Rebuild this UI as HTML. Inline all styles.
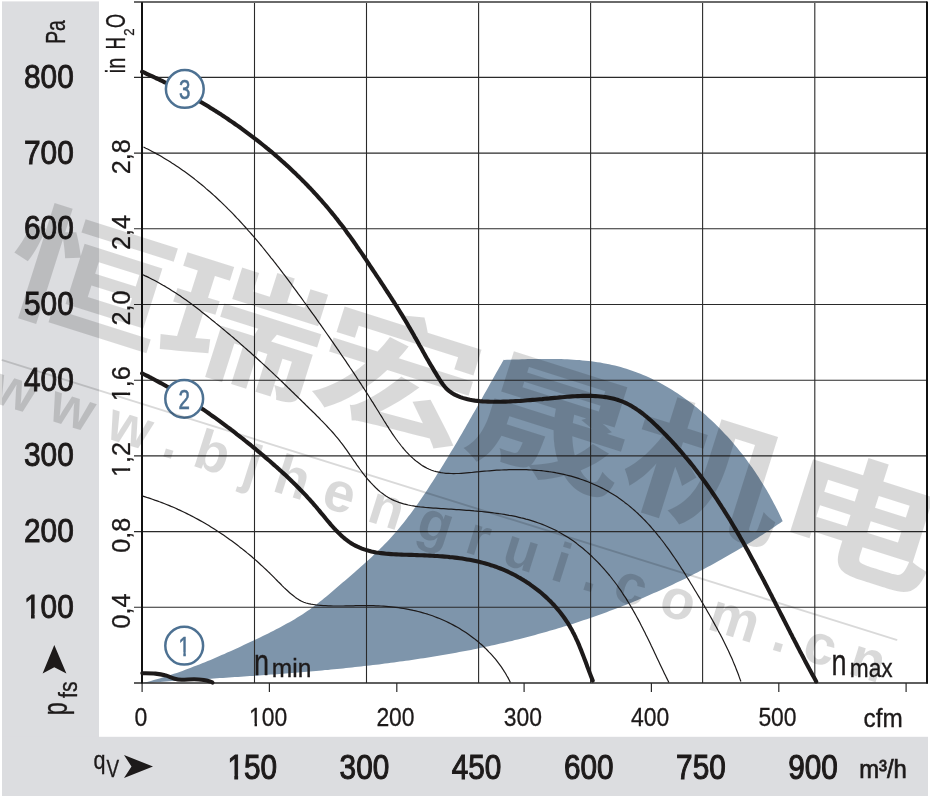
<!DOCTYPE html><html><head><meta charset="utf-8"><title>Fan curve</title><style>
html,body{margin:0;padding:0;background:#fff;}body{width:930px;height:801px;overflow:hidden;}svg{display:block;will-change:transform;}
text{font-family:'Liberation Sans', Arial, sans-serif;}
</style></head><body>
<svg width="930" height="801" viewBox="0 0 930 801">
<rect x="0" y="0" width="930" height="801" fill="#fff"/>
<rect x="2" y="1.4" width="97" height="794.6" fill="#dcdde0"/>
<rect x="2" y="736.8" width="926" height="59.2" fill="#dcdde0"/>
<path d="M142.1,683.3 L145.1,682.5 L148.0,681.8 L150.9,681.0 L153.8,680.1 L156.7,679.3 L159.6,678.5 L162.5,677.6 L165.3,676.7 L168.2,675.8 L171.1,674.8 L173.9,673.8 L176.8,672.9 L179.6,671.9 L182.4,670.9 L185.3,669.8 L188.1,668.8 L190.9,667.7 L193.7,666.6 L196.6,665.5 L199.4,664.4 L202.2,663.3 L205.0,662.2 L207.7,661.0 L210.5,659.9 L213.3,658.7 L216.1,657.5 L218.9,656.3 L221.6,655.1 L224.4,653.9 L227.2,652.6 L229.9,651.4 L232.7,650.2 L235.4,648.9 L238.2,647.7 L240.9,646.4 L243.7,645.1 L246.4,643.8 L249.1,642.5 L251.9,641.3 L254.6,640.0 L257.3,638.7 L260.0,637.4 L262.8,636.0 L265.5,634.7 L268.2,633.4 L270.9,632.0 L273.6,630.7 L276.2,629.3 L278.9,627.9 L281.6,626.5 L284.2,625.1 L286.9,623.6 L289.5,622.2 L292.1,620.7 L294.7,619.2 L297.2,617.6 L299.8,616.0 L302.3,614.4 L304.8,612.8 L307.3,611.1 L309.8,609.4 L312.2,607.6 L314.7,605.8 L317.0,604.0 L319.4,602.1 L321.8,600.2 L324.1,598.3 L326.4,596.4 L328.8,594.4 L331.1,592.5 L333.4,590.5 L335.7,588.5 L338.0,586.6 L340.3,584.6 L342.6,582.6 L344.9,580.7 L347.2,578.7 L349.5,576.7 L351.8,574.8 L354.1,572.8 L356.3,570.8 L358.6,568.8 L360.8,566.8 L363.1,564.8 L365.3,562.8 L367.6,560.8 L369.8,558.7 L372.0,556.7 L374.1,554.6 L376.3,552.5 L378.5,550.4 L380.6,548.3 L382.7,546.2 L384.8,544.0 L386.9,541.9 L389.0,539.7 L391.0,537.5 L393.0,535.3 L395.0,533.0 L397.0,530.7 L398.9,528.4 L400.9,526.1 L402.8,523.8 L404.6,521.4 L406.5,519.0 L408.3,516.6 L410.2,514.2 L412.0,511.8 L413.8,509.3 L415.5,506.9 L417.3,504.4 L419.0,501.9 L420.7,499.4 L422.4,496.9 L424.1,494.4 L425.8,491.9 L427.5,489.4 L429.2,486.8 L430.8,484.3 L432.5,481.8 L434.1,479.2 L435.7,476.7 L437.3,474.1 L439.0,471.6 L440.6,469.0 L442.1,466.5 L443.7,463.9 L445.3,461.3 L446.9,458.8 L448.4,456.2 L450.0,453.6 L451.5,451.0 L453.1,448.4 L454.6,445.9 L456.2,443.3 L457.7,440.7 L459.2,438.1 L460.7,435.5 L462.2,432.9 L463.7,430.3 L465.2,427.7 L466.7,425.1 L468.2,422.4 L469.7,419.8 L471.2,417.2 L472.7,414.6 L474.2,412.0 L475.7,409.4 L477.2,406.8 L478.7,404.1 L480.1,401.5 L481.6,398.9 L483.1,396.3 L484.6,393.6 L486.1,391.0 L487.5,388.4 L489.0,385.7 L490.5,383.1 L492.0,380.5 L493.5,377.8 L494.9,375.2 L496.4,372.6 L497.9,370.0 L499.4,367.3 L500.9,364.7 L502.4,362.1 L503.9,359.4 L504.0,359.9 L506.9,359.8 L509.9,359.7 L512.9,359.6 L515.9,359.5 L518.9,359.4 L521.9,359.3 L524.9,359.2 L527.9,359.1 L530.9,359.1 L533.9,359.0 L537.0,359.0 L540.0,358.9 L543.0,358.9 L546.1,358.9 L549.1,358.9 L552.1,358.9 L555.2,359.0 L558.2,359.0 L561.2,359.1 L564.3,359.2 L567.3,359.3 L570.3,359.5 L573.3,359.7 L576.4,359.9 L579.4,360.1 L582.4,360.4 L585.4,360.7 L588.4,361.0 L591.4,361.3 L594.3,361.7 L597.3,362.2 L600.3,362.6 L603.2,363.2 L606.2,363.7 L609.1,364.3 L612.0,364.9 L614.9,365.6 L617.8,366.3 L620.7,367.1 L623.6,367.9 L626.4,368.8 L629.2,369.7 L632.1,370.7 L634.9,371.7 L637.6,372.7 L640.4,373.8 L643.2,374.9 L645.9,376.1 L648.6,377.3 L651.3,378.6 L654.0,379.9 L656.7,381.3 L659.3,382.6 L662.0,384.1 L664.6,385.5 L667.2,387.0 L669.8,388.5 L672.3,390.1 L674.9,391.7 L677.4,393.3 L679.9,395.0 L682.4,396.7 L684.8,398.4 L687.3,400.2 L689.7,402.0 L692.1,403.8 L694.4,405.7 L696.8,407.5 L699.1,409.5 L701.4,411.4 L703.7,413.3 L706.0,415.3 L708.2,417.4 L710.5,419.4 L712.7,421.5 L714.8,423.6 L717.0,425.7 L719.1,427.8 L721.2,430.0 L723.3,432.2 L725.4,434.4 L727.5,436.6 L729.5,438.8 L731.5,441.1 L733.5,443.4 L735.4,445.7 L737.3,448.0 L739.2,450.4 L741.1,452.8 L743.0,455.1 L744.8,457.6 L746.7,460.0 L748.4,462.4 L750.2,464.9 L752.0,467.3 L753.7,469.8 L755.4,472.3 L757.0,474.8 L758.7,477.3 L760.3,479.9 L761.9,482.4 L763.5,485.0 L765.0,487.6 L766.6,490.1 L768.1,492.7 L769.6,495.3 L771.0,498.0 L772.4,500.6 L773.8,503.2 L775.2,505.8 L776.6,508.5 L777.9,511.1 L779.2,513.8 L780.5,516.5 L781.7,519.1 L782.9,521.8 L782.7,521.1 L780.2,522.9 L777.7,524.6 L775.2,526.3 L772.7,528.0 L770.2,529.7 L767.6,531.4 L765.1,533.0 L762.6,534.7 L760.0,536.3 L757.5,537.9 L754.9,539.6 L752.3,541.2 L749.8,542.8 L747.2,544.3 L744.6,545.9 L742.0,547.5 L739.4,549.0 L736.9,550.6 L734.3,552.1 L731.6,553.6 L729.0,555.1 L726.4,556.6 L723.8,558.1 L721.2,559.6 L718.5,561.1 L715.9,562.5 L713.3,564.0 L710.6,565.4 L708.0,566.8 L705.3,568.3 L702.6,569.7 L700.0,571.0 L697.3,572.4 L694.6,573.8 L691.9,575.2 L689.2,576.5 L686.6,577.9 L683.9,579.2 L681.2,580.5 L678.4,581.8 L675.7,583.1 L673.0,584.4 L670.3,585.7 L667.6,586.9 L664.9,588.2 L662.1,589.4 L659.4,590.7 L656.6,591.9 L653.9,593.1 L651.1,594.3 L648.4,595.5 L645.6,596.7 L642.9,597.9 L640.1,599.0 L637.3,600.2 L634.6,601.3 L631.8,602.5 L629.0,603.6 L626.2,604.7 L623.4,605.8 L620.6,606.9 L617.8,608.0 L615.0,609.0 L612.2,610.1 L609.4,611.1 L606.6,612.2 L603.8,613.2 L601.0,614.2 L598.1,615.2 L595.3,616.2 L592.5,617.2 L589.6,618.2 L586.8,619.2 L584.0,620.1 L581.1,621.1 L578.3,622.0 L575.4,622.9 L572.6,623.9 L569.7,624.8 L566.9,625.7 L564.0,626.6 L561.1,627.4 L558.3,628.3 L555.4,629.2 L552.5,630.0 L549.6,630.8 L546.8,631.7 L543.9,632.5 L541.0,633.3 L538.1,634.1 L535.2,634.9 L532.3,635.7 L529.4,636.4 L526.5,637.2 L523.6,638.0 L520.7,638.7 L517.8,639.4 L514.9,640.1 L512.0,640.9 L509.1,641.6 L506.1,642.2 L503.2,642.9 L500.3,643.6 L497.4,644.3 L494.4,644.9 L491.5,645.6 L488.6,646.2 L485.7,646.8 L482.7,647.5 L479.8,648.1 L476.8,648.7 L473.9,649.3 L471.0,649.9 L468.0,650.4 L465.1,651.0 L462.1,651.6 L459.2,652.1 L456.2,652.7 L453.3,653.2 L450.3,653.7 L447.4,654.3 L444.4,654.8 L441.4,655.3 L438.5,655.8 L435.5,656.3 L432.5,656.8 L429.6,657.2 L426.6,657.7 L423.6,658.2 L420.7,658.6 L417.7,659.1 L414.7,659.5 L411.7,660.0 L408.8,660.4 L405.8,660.8 L402.8,661.2 L399.8,661.6 L396.8,662.0 L393.9,662.4 L390.9,662.8 L387.9,663.2 L384.9,663.6 L381.9,664.0 L378.9,664.4 L375.9,664.7 L372.9,665.1 L369.9,665.4 L367.0,665.8 L364.0,666.1 L361.0,666.5 L358.0,666.8 L355.0,667.1 L352.0,667.4 L349.0,667.8 L346.0,668.1 L343.0,668.4 L340.0,668.7 L337.0,669.0 L334.0,669.3 L331.0,669.6 L328.0,669.9 L325.0,670.1 L322.0,670.4 L319.0,670.7 L316.0,671.0 L313.0,671.2 L310.0,671.5 L307.0,671.8 L304.0,672.0 L300.9,672.3 L297.9,672.5 L294.9,672.8 L291.9,673.0 L288.9,673.2 L285.9,673.5 L282.9,673.7 L279.9,673.9 L276.9,674.2 L273.9,674.4 L270.9,674.6 L267.9,674.8 L264.9,675.1 L261.9,675.3 L258.9,675.5 L255.9,675.7 L252.9,675.9 L249.9,676.1 L246.9,676.3 L243.9,676.5 L240.9,676.7 L237.9,676.9 L234.9,677.1 L231.9,677.3 L228.9,677.5 L225.9,677.7 L222.9,677.9 L219.9,678.1 L216.9,678.3 L213.9,678.5 L210.9,678.7 L207.9,678.9 L204.9,679.1 L201.9,679.3 L198.9,679.5 L195.9,679.6 L192.9,679.8 L189.9,680.0 L186.9,680.2 L184.0,680.4 L181.0,680.6 L178.0,680.8 L175.0,681.0 L172.0,681.1 L169.0,681.3 L166.1,681.5 L163.1,681.7 L160.1,681.9 L157.1,682.1 L154.1,682.3 L151.2,682.5 L148.2,682.7 L145.2,682.9 L142.3,683.1 Z" fill="#7e95ab"/>
<g stroke="#2a2a2a" stroke-width="1.1" fill="none"><line x1="254.5" y1="1.7" x2="254.5" y2="683" /><line x1="366.5" y1="1.7" x2="366.5" y2="683" /><line x1="478.6" y1="1.7" x2="478.6" y2="683" /><line x1="590.6" y1="1.7" x2="590.6" y2="683" /><line x1="702.6" y1="1.7" x2="702.6" y2="683" /><line x1="814.8" y1="1.7" x2="814.8" y2="683" /><line x1="134" y1="607.3" x2="927" y2="607.3" /><line x1="134" y1="531.6" x2="927" y2="531.6" /><line x1="134" y1="455.9" x2="927" y2="455.9" /><line x1="134" y1="380.2" x2="927" y2="380.2" /><line x1="134" y1="304.5" x2="927" y2="304.5" /><line x1="134" y1="228.8" x2="927" y2="228.8" /><line x1="134" y1="153.1" x2="927" y2="153.1" /><line x1="134" y1="77.4" x2="927" y2="77.4" /></g>
<line x1="134" y1="2" x2="927" y2="2" stroke="#6a6a6a" stroke-width="1.8"/>
<line x1="134" y1="683" x2="928" y2="683" stroke="#2a2a2a" stroke-width="1.3"/>
<g stroke="#2a2a2a" stroke-width="1.2"><line x1="142.1" y1="683" x2="142.1" y2="692" /><line x1="269.4" y1="683" x2="269.4" y2="692" /><line x1="396.8" y1="683" x2="396.8" y2="692" /><line x1="524.1" y1="683" x2="524.1" y2="692" /><line x1="651.4" y1="683" x2="651.4" y2="692" /><line x1="778.8" y1="683" x2="778.8" y2="692" /><line x1="906.1" y1="683" x2="906.1" y2="692" /></g>
<line x1="142.0" y1="2.2" x2="142.0" y2="683.5" stroke="#111" stroke-width="2"/>
<line x1="927" y1="1.6" x2="927" y2="683.5" stroke="#111" stroke-width="2"/>
<path d="M143.5,147.0 L145.8,148.2 L148.1,149.3 L150.4,150.5 L152.6,151.7 L154.9,152.9 L157.1,154.1 L159.3,155.3 L161.5,156.6 L163.7,157.9 L165.8,159.2 L168.0,160.5 L170.1,161.8 L172.2,163.2 L174.3,164.5 L176.4,165.9 L178.5,167.3 L180.5,168.7 L182.6,170.2 L184.6,171.6 L186.6,173.1 L188.6,174.6 L190.6,176.1 L192.6,177.6 L194.6,179.1 L196.5,180.6 L198.5,182.2 L200.4,183.8 L202.3,185.3 L204.3,186.9 L206.1,188.6 L208.0,190.2 L209.9,191.8 L211.8,193.5 L213.6,195.1 L215.5,196.8 L217.3,198.5 L219.1,200.2 L220.9,201.9 L222.7,203.6 L224.5,205.4 L226.3,207.1 L228.0,208.9 L229.8,210.6 L231.6,212.4 L233.3,214.2 L235.0,216.0 L236.7,217.8 L238.5,219.6 L240.2,221.5 L241.9,223.3 L243.5,225.2 L245.2,227.0 L246.9,228.9 L248.5,230.8 L250.2,232.6 L251.8,234.5 L253.5,236.4 L255.1,238.3 L256.7,240.2 L258.4,242.2 L260.0,244.1 L261.6,246.0 L263.2,248.0 L264.7,249.9 L266.3,251.9 L267.9,253.8 L269.5,255.8 L271.0,257.8 L272.6,259.7 L274.1,261.7 L275.7,263.7 L277.2,265.7 L278.8,267.7 L280.3,269.7 L281.8,271.7 L283.3,273.7 L284.9,275.7 L286.4,277.7 L287.9,279.7 L289.4,281.7 L290.9,283.7 L292.4,285.8 L293.9,287.8 L295.4,289.8 L296.9,291.8 L298.3,293.9 L299.8,295.9 L301.3,297.9 L302.8,300.0 L304.2,302.0 L305.7,304.0 L307.2,306.0 L308.6,308.1 L310.1,310.1 L311.5,312.1 L313.0,314.2 L314.5,316.2 L315.9,318.2 L317.4,320.3 L318.8,322.3 L320.3,324.3 L321.7,326.4 L323.1,328.4 L324.6,330.5 L326.0,332.5 L327.4,334.5 L328.9,336.6 L330.3,338.6 L331.7,340.7 L333.1,342.7 L334.6,344.8 L336.0,346.8 L337.4,348.9 L338.8,350.9 L340.2,353.0 L341.6,355.1 L343.0,357.1 L344.4,359.2 L345.8,361.2 L347.2,363.3 L348.6,365.4 L350.0,367.5 L351.4,369.5 L352.8,371.6 L354.2,373.7 L355.6,375.8 L356.9,377.9 L358.3,380.0 L359.7,382.1 L361.1,384.2 L362.4,386.3 L363.8,388.4 L365.2,390.5 L366.5,392.6 L367.9,394.7 L369.2,396.8 L370.6,399.0 L371.9,401.1 L373.3,403.2 L374.6,405.4 L375.9,407.5 L377.3,409.7 L378.6,411.8 L379.9,414.0 L381.3,416.1 L382.6,418.3 L383.9,420.5 L385.3,422.6 L386.6,424.8 L388.0,426.9 L389.3,429.1 L390.7,431.2 L392.1,433.3 L393.5,435.4 L395.0,437.5 L396.4,439.5 L397.9,441.5 L399.5,443.5 L401.0,445.5 L402.6,447.5 L404.2,449.4 L405.9,451.3 L407.6,453.1 L409.3,454.9 L411.1,456.6 L413.0,458.4 L414.8,460.0 L416.8,461.6 L418.8,463.1 L420.8,464.6 L422.8,465.9 L425.0,467.1 L427.1,468.3 L429.3,469.3 L431.6,470.2 L433.9,471.0 L436.3,471.7 L438.7,472.2 L441.1,472.7 L443.5,473.0 L446.0,473.3 L448.5,473.4 L451.1,473.5 L453.6,473.6 L456.2,473.5 L458.8,473.5 L461.4,473.3 L464.0,473.1 L466.6,472.9 L469.1,472.7 L471.7,472.5 L474.3,472.2 L476.8,471.9 L479.4,471.7 L481.9,471.4 L484.4,471.2 L486.9,471.0 L489.4,470.8 L491.8,470.6 L494.3,470.4 L496.7,470.2 L499.2,470.1 L501.6,470.0 L504.1,469.8 L506.5,469.8 L509.0,469.7 L511.5,469.6 L513.9,469.6 L516.4,469.6 L518.9,469.6 L521.4,469.6 L523.9,469.6 L526.4,469.7 L528.9,469.8 L531.4,470.0 L533.9,470.1 L536.4,470.3 L538.9,470.5 L541.4,470.7 L543.9,471.0 L546.4,471.3 L548.9,471.7 L551.4,472.0 L553.9,472.4 L556.4,472.9 L558.8,473.3 L561.3,473.8 L563.8,474.4 L566.2,475.0 L568.7,475.6 L571.1,476.2 L573.5,476.9 L576.0,477.6 L578.4,478.4 L580.8,479.2 L583.1,480.0 L585.5,480.9 L587.9,481.8 L590.2,482.7 L592.5,483.7 L594.8,484.7 L597.1,485.7 L599.3,486.8 L601.6,487.9 L603.8,489.0 L606.0,490.2 L608.2,491.4 L610.3,492.7 L612.5,494.0 L614.6,495.3 L616.7,496.6 L618.7,498.0 L620.8,499.4 L622.8,500.9 L624.7,502.4 L626.7,503.9 L628.6,505.4 L630.5,507.0 L632.4,508.6 L634.3,510.2 L636.1,511.9 L637.9,513.5 L639.7,515.3 L641.5,517.0 L643.3,518.8 L645.0,520.5 L646.7,522.3 L648.4,524.2 L650.1,526.0 L651.7,527.9 L653.4,529.8 L655.0,531.7 L656.6,533.6 L658.2,535.6 L659.8,537.5 L661.3,539.5 L662.9,541.5 L664.4,543.5 L665.9,545.6 L667.4,547.6 L668.9,549.7 L670.3,551.7 L671.8,553.8 L673.2,555.9 L674.7,558.0 L676.1,560.1 L677.5,562.2 L678.9,564.3 L680.3,566.5 L681.6,568.6 L683.0,570.7 L684.4,572.9 L685.7,575.0 L687.0,577.2 L688.4,579.4 L689.7,581.5 L691.0,583.7 L692.3,585.8 L693.6,588.0 L694.9,590.2 L696.2,592.3 L697.5,594.5 L698.8,596.6 L700.1,598.8 L701.3,601.0 L702.6,603.1 L703.9,605.2 L705.1,607.4 L706.4,609.5 L707.6,611.7 L708.8,613.8 L710.1,616.0 L711.3,618.1 L712.5,620.3 L713.7,622.4 L714.9,624.6 L716.1,626.7 L717.3,628.9 L718.4,631.1 L719.6,633.3 L720.8,635.4 L721.9,637.6 L723.0,639.8 L724.1,642.0 L725.2,644.3 L726.3,646.5 L727.4,648.7 L728.5,651.0 L729.5,653.3 L730.5,655.5 L731.6,657.8 L732.6,660.1 L733.5,662.4 L734.5,664.8 L735.5,667.1 L736.4,669.5 L737.3,671.8 L738.3,674.2 L739.1,676.6 L740.0,679.1 L740.9,681.5" fill="none" stroke="#1d1a1a" stroke-width="1.2" stroke-linejoin="round"/>
<path d="M142.9,274.8 L145.2,275.9 L147.5,276.9 L149.7,278.0 L152.0,279.2 L154.2,280.3 L156.5,281.5 L158.7,282.7 L160.8,283.9 L163.0,285.2 L165.2,286.4 L167.3,287.7 L169.5,289.0 L171.6,290.4 L173.7,291.7 L175.8,293.1 L177.9,294.4 L180.0,295.8 L182.0,297.3 L184.1,298.7 L186.1,300.1 L188.1,301.6 L190.2,303.1 L192.2,304.6 L194.2,306.1 L196.2,307.6 L198.2,309.1 L200.2,310.6 L202.1,312.2 L204.1,313.7 L206.1,315.3 L208.0,316.8 L210.0,318.4 L211.9,320.0 L213.9,321.5 L215.8,323.1 L217.8,324.7 L219.7,326.3 L221.6,327.9 L223.6,329.5 L225.5,331.1 L227.4,332.7 L229.3,334.3 L231.2,335.9 L233.2,337.5 L235.1,339.2 L237.0,340.8 L238.9,342.4 L240.8,344.1 L242.6,345.7 L244.5,347.4 L246.4,349.0 L248.3,350.7 L250.2,352.3 L252.0,354.0 L253.9,355.7 L255.8,357.3 L257.6,359.0 L259.5,360.7 L261.3,362.4 L263.2,364.1 L265.0,365.8 L266.9,367.5 L268.7,369.2 L270.5,370.9 L272.4,372.6 L274.2,374.4 L276.0,376.1 L277.8,377.8 L279.7,379.6 L281.5,381.3 L283.3,383.0 L285.1,384.8 L286.9,386.5 L288.7,388.3 L290.5,390.0 L292.3,391.8 L294.1,393.5 L295.9,395.3 L297.7,397.0 L299.5,398.8 L301.3,400.5 L303.1,402.3 L304.9,404.0 L306.6,405.8 L308.4,407.5 L310.2,409.3 L312.0,411.0 L313.8,412.7 L315.6,414.5 L317.3,416.3 L319.1,418.0 L320.8,419.8 L322.6,421.6 L324.3,423.3 L326.0,425.1 L327.7,427.0 L329.4,428.8 L331.1,430.6 L332.8,432.5 L334.4,434.4 L336.0,436.3 L337.6,438.2 L339.2,440.1 L340.7,442.1 L342.3,444.1 L343.8,446.1 L345.2,448.1 L346.7,450.2 L348.2,452.3 L349.6,454.4 L351.0,456.4 L352.5,458.5 L353.9,460.6 L355.4,462.7 L356.8,464.8 L358.3,466.9 L359.8,469.0 L361.3,471.0 L362.8,473.1 L364.4,475.1 L366.0,477.1 L367.6,479.1 L369.3,481.0 L371.0,482.9 L372.7,484.7 L374.5,486.5 L376.3,488.3 L378.1,490.0 L380.0,491.6 L381.9,493.1 L383.9,494.6 L385.9,496.0 L388.0,497.3 L390.1,498.5 L392.2,499.6 L394.4,500.6 L396.7,501.5 L398.9,502.4 L401.2,503.1 L403.6,503.8 L405.9,504.4 L408.3,505.0 L410.7,505.5 L413.2,505.9 L415.6,506.3 L418.1,506.7 L420.6,507.0 L423.1,507.2 L425.7,507.5 L428.2,507.7 L430.8,507.9 L433.3,508.1 L435.9,508.2 L438.4,508.4 L441.0,508.6 L443.5,508.7 L446.1,508.9 L448.7,509.1 L451.2,509.2 L453.8,509.4 L456.3,509.6 L458.9,509.7 L461.4,509.9 L464.0,510.1 L466.5,510.3 L469.1,510.4 L471.6,510.6 L474.2,510.9 L476.7,511.1 L479.2,511.3 L481.7,511.5 L484.3,511.8 L486.8,512.1 L489.3,512.4 L491.8,512.7 L494.3,513.0 L496.8,513.3 L499.2,513.7 L501.7,514.0 L504.2,514.4 L506.6,514.8 L509.1,515.3 L511.5,515.7 L514.0,516.2 L516.4,516.7 L518.8,517.3 L521.2,517.9 L523.6,518.4 L525.9,519.1 L528.3,519.7 L530.7,520.4 L533.0,521.1 L535.3,521.9 L537.7,522.7 L540.0,523.5 L542.3,524.4 L544.5,525.3 L546.8,526.2 L549.0,527.2 L551.3,528.2 L553.5,529.2 L555.7,530.3 L557.9,531.5 L560.1,532.7 L562.2,533.9 L564.3,535.2 L566.5,536.5 L568.6,537.8 L570.7,539.2 L572.7,540.6 L574.8,542.1 L576.8,543.6 L578.8,545.2 L580.8,546.7 L582.8,548.3 L584.7,550.0 L586.6,551.6 L588.5,553.3 L590.4,555.0 L592.3,556.8 L594.1,558.6 L595.9,560.4 L597.7,562.2 L599.5,564.0 L601.2,565.9 L603.0,567.8 L604.6,569.7 L606.3,571.6 L608.0,573.6 L609.6,575.5 L611.2,577.5 L612.7,579.5 L614.3,581.5 L615.8,583.5 L617.3,585.5 L618.7,587.6 L620.2,589.6 L621.6,591.7 L622.9,593.8 L624.3,595.9 L625.7,597.9 L627.0,600.1 L628.3,602.2 L629.6,604.3 L630.8,606.4 L632.1,608.6 L633.3,610.7 L634.5,612.9 L635.7,615.0 L636.9,617.2 L638.1,619.4 L639.3,621.6 L640.4,623.8 L641.5,626.0 L642.7,628.2 L643.8,630.4 L644.9,632.6 L646.0,634.9 L647.1,637.1 L648.2,639.3 L649.3,641.6 L650.4,643.8 L651.4,646.1 L652.5,648.3 L653.6,650.6 L654.7,652.9 L655.7,655.1 L656.8,657.4 L657.9,659.7 L659.0,662.0 L660.0,664.2 L661.1,666.5 L662.2,668.8 L663.3,671.1 L664.4,673.4 L665.5,675.6 L666.6,677.9 L667.8,680.2 L668.9,682.5" fill="none" stroke="#1d1a1a" stroke-width="1.2" stroke-linejoin="round"/>
<path d="M142.8,496.2 L145.2,496.9 L147.6,497.7 L150.0,498.4 L152.4,499.2 L154.7,500.1 L157.1,500.9 L159.5,501.8 L161.8,502.6 L164.1,503.5 L166.5,504.5 L168.8,505.4 L171.1,506.4 L173.4,507.3 L175.7,508.3 L177.9,509.4 L180.2,510.4 L182.5,511.5 L184.7,512.5 L186.9,513.6 L189.2,514.7 L191.4,515.9 L193.6,517.0 L195.8,518.2 L198.0,519.4 L200.2,520.6 L202.3,521.8 L204.5,523.1 L206.6,524.3 L208.8,525.6 L210.9,526.9 L213.0,528.2 L215.1,529.6 L217.2,530.9 L219.3,532.3 L221.4,533.7 L223.5,535.1 L225.5,536.5 L227.6,537.9 L229.6,539.4 L231.6,540.8 L233.6,542.3 L235.6,543.8 L237.6,545.3 L239.6,546.9 L241.6,548.4 L243.6,550.0 L245.5,551.5 L247.4,553.1 L249.4,554.7 L251.3,556.3 L253.2,558.0 L255.1,559.6 L257.0,561.3 L258.9,563.0 L260.7,564.7 L262.6,566.4 L264.4,568.1 L266.2,569.8 L268.1,571.6 L269.9,573.3 L271.7,575.1 L273.5,576.9 L275.2,578.7 L277.0,580.5 L278.8,582.3 L280.6,584.0 L282.3,585.8 L284.1,587.6 L285.9,589.3 L287.8,591.0 L289.6,592.7 L291.5,594.3 L293.4,595.8 L295.4,597.4 L297.4,598.8 L299.4,600.1 L301.6,601.3 L303.8,602.2 L306.1,603.0 L308.5,603.6 L310.9,604.1 L313.3,604.5 L315.8,604.9 L318.3,605.2 L320.7,605.4 L323.2,605.6 L325.7,605.7 L328.2,605.9 L330.7,605.9 L333.2,606.0 L335.7,606.0 L338.2,606.0 L340.7,606.0 L343.2,606.0 L345.7,605.9 L348.3,605.9 L350.8,605.8 L353.3,605.8 L355.8,605.7 L358.3,605.7 L360.9,605.6 L363.4,605.6 L365.9,605.6 L368.4,605.6 L371.0,605.6 L373.5,605.7 L376.0,605.8 L378.5,605.9 L381.0,606.0 L383.5,606.2 L386.1,606.4 L388.6,606.6 L391.1,606.8 L393.6,607.1 L396.0,607.4 L398.5,607.7 L401.0,608.1 L403.5,608.5 L405.9,608.9 L408.4,609.3 L410.8,609.8 L413.3,610.4 L415.7,610.9 L418.1,611.5 L420.6,612.1 L423.0,612.8 L425.3,613.5 L427.7,614.2 L430.1,615.0 L432.5,615.8 L434.8,616.7 L437.1,617.6 L439.5,618.5 L441.8,619.5 L444.1,620.5 L446.3,621.5 L448.6,622.6 L450.8,623.7 L453.0,624.9 L455.2,626.1 L457.4,627.3 L459.6,628.6 L461.7,629.9 L463.8,631.2 L465.9,632.6 L468.0,634.0 L470.0,635.4 L472.0,636.9 L474.0,638.4 L476.0,640.0 L477.9,641.5 L479.8,643.2 L481.7,644.8 L483.5,646.5 L485.3,648.2 L487.1,650.0 L488.8,651.8 L490.6,653.6 L492.2,655.4 L493.9,657.3 L495.5,659.2 L497.0,661.2 L498.5,663.2 L500.0,665.2 L501.5,667.2 L502.9,669.3 L504.2,671.4 L505.6,673.5 L506.8,675.7 L508.1,677.9 L509.3,680.2 L510.4,682.4" fill="none" stroke="#1d1a1a" stroke-width="1.2" stroke-linejoin="round"/>
<path d="M142.1,71.7 L144.4,72.7 L146.7,73.8 L148.9,74.8 L151.2,75.8 L153.5,76.9 L155.7,78.0 L158.0,79.0 L160.2,80.1 L162.5,81.2 L164.7,82.3 L166.9,83.5 L169.2,84.6 L171.4,85.7 L173.6,86.9 L175.8,88.0 L178.1,89.2 L180.3,90.4 L182.5,91.6 L184.7,92.8 L186.9,94.0 L189.0,95.2 L191.2,96.4 L193.4,97.6 L195.6,98.9 L197.7,100.1 L199.9,101.4 L202.1,102.7 L204.2,104.0 L206.4,105.3 L208.5,106.6 L210.6,107.9 L212.8,109.2 L214.9,110.6 L217.0,111.9 L219.1,113.3 L221.2,114.6 L223.3,116.0 L225.4,117.4 L227.5,118.8 L229.5,120.2 L231.6,121.6 L233.7,123.0 L235.7,124.5 L237.8,125.9 L239.8,127.3 L241.9,128.8 L243.9,130.3 L245.9,131.8 L247.9,133.3 L249.9,134.8 L251.9,136.3 L253.9,137.8 L255.9,139.3 L257.9,140.9 L259.8,142.4 L261.8,144.0 L263.7,145.5 L265.7,147.1 L267.6,148.7 L269.6,150.3 L271.5,151.9 L273.4,153.5 L275.3,155.1 L277.2,156.8 L279.1,158.4 L280.9,160.1 L282.8,161.7 L284.7,163.4 L286.5,165.1 L288.4,166.8 L290.2,168.5 L292.0,170.2 L293.8,171.9 L295.6,173.6 L297.4,175.4 L299.2,177.1 L301.0,178.9 L302.8,180.7 L304.5,182.4 L306.3,184.2 L308.0,186.0 L309.7,187.8 L311.5,189.6 L313.2,191.5 L314.9,193.3 L316.6,195.1 L318.2,197.0 L319.9,198.8 L321.6,200.7 L323.2,202.6 L324.9,204.5 L326.5,206.4 L328.1,208.3 L329.7,210.2 L331.3,212.1 L332.9,214.1 L334.5,216.0 L336.0,217.9 L337.6,219.9 L339.1,221.9 L340.6,223.9 L342.2,225.8 L343.7,227.8 L345.2,229.8 L346.6,231.9 L348.1,233.9 L349.6,235.9 L351.0,237.9 L352.5,240.0 L353.9,242.0 L355.4,244.1 L356.8,246.2 L358.2,248.2 L359.6,250.3 L361.1,252.4 L362.5,254.4 L363.9,256.5 L365.3,258.6 L366.7,260.7 L368.0,262.8 L369.4,264.8 L370.8,266.9 L372.2,269.0 L373.6,271.1 L375.0,273.2 L376.4,275.3 L377.8,277.4 L379.2,279.4 L380.5,281.5 L381.9,283.6 L383.3,285.7 L384.7,287.8 L386.0,289.9 L387.4,292.0 L388.8,294.1 L390.1,296.2 L391.5,298.3 L392.8,300.4 L394.2,302.5 L395.5,304.6 L396.9,306.7 L398.2,308.8 L399.5,311.0 L400.8,313.1 L402.1,315.2 L403.4,317.3 L404.7,319.5 L406.0,321.6 L407.3,323.8 L408.5,325.9 L409.8,328.1 L411.0,330.2 L412.3,332.4 L413.5,334.6 L414.7,336.8 L416.0,338.9 L417.2,341.1 L418.4,343.3 L419.6,345.5 L420.9,347.6 L422.1,349.8 L423.3,352.0 L424.6,354.2 L425.8,356.4 L427.0,358.6 L428.3,360.7 L429.5,362.9 L430.8,365.1 L432.1,367.2 L433.4,369.4 L434.7,371.6 L436.0,373.7 L437.3,375.9 L438.7,378.0 L440.0,380.2 L441.4,382.3 L442.8,384.3 L444.4,386.3 L446.0,388.2 L447.7,389.9 L449.6,391.4 L451.6,392.8 L453.6,394.1 L455.8,395.2 L458.0,396.2 L460.3,397.1 L462.6,397.9 L465.0,398.6 L467.5,399.2 L469.9,399.8 L472.4,400.2 L475.0,400.6 L477.5,400.9 L480.1,401.2 L482.7,401.4 L485.3,401.5 L487.9,401.6 L490.5,401.7 L493.0,401.7 L495.6,401.7 L498.2,401.7 L500.7,401.7 L503.2,401.6 L505.7,401.6 L508.2,401.5 L510.7,401.4 L513.1,401.3 L515.6,401.1 L518.0,401.0 L520.5,400.9 L522.9,400.7 L525.3,400.5 L527.7,400.3 L530.2,400.1 L532.6,399.9 L535.0,399.7 L537.4,399.5 L539.9,399.3 L542.3,399.1 L544.7,398.8 L547.2,398.6 L549.6,398.4 L552.1,398.1 L554.6,397.9 L557.1,397.7 L559.6,397.4 L562.1,397.2 L564.7,397.0 L567.2,396.8 L569.8,396.6 L572.3,396.4 L574.9,396.2 L577.5,396.1 L580.0,396.0 L582.6,395.9 L585.2,395.9 L587.7,395.9 L590.3,395.9 L592.8,396.0 L595.4,396.1 L597.9,396.3 L600.4,396.5 L602.9,396.8 L605.4,397.1 L607.8,397.5 L610.3,398.0 L612.7,398.5 L615.1,399.1 L617.4,399.8 L619.7,400.6 L622.0,401.4 L624.3,402.3 L626.5,403.4 L628.7,404.5 L630.8,405.6 L633.0,406.9 L635.1,408.2 L637.1,409.6 L639.2,411.0 L641.2,412.5 L643.2,414.0 L645.1,415.6 L647.1,417.2 L649.0,418.9 L650.9,420.5 L652.8,422.3 L654.6,424.0 L656.5,425.7 L658.3,427.5 L660.1,429.3 L661.9,431.1 L663.7,432.9 L665.5,434.7 L667.2,436.5 L668.9,438.3 L670.7,440.1 L672.4,442.0 L674.1,443.8 L675.8,445.7 L677.4,447.6 L679.1,449.5 L680.8,451.3 L682.4,453.2 L684.0,455.2 L685.6,457.1 L687.2,459.0 L688.8,460.9 L690.4,462.9 L691.9,464.8 L693.5,466.8 L695.0,468.8 L696.5,470.7 L698.0,472.7 L699.6,474.7 L701.0,476.7 L702.5,478.7 L704.0,480.7 L705.5,482.8 L706.9,484.8 L708.3,486.8 L709.8,488.9 L711.2,490.9 L712.6,493.0 L714.0,495.0 L715.4,497.1 L716.8,499.2 L718.2,501.3 L719.5,503.4 L720.9,505.5 L722.2,507.6 L723.6,509.7 L724.9,511.8 L726.2,513.9 L727.5,516.0 L728.9,518.1 L730.2,520.3 L731.4,522.4 L732.7,524.5 L734.0,526.7 L735.3,528.8 L736.6,531.0 L737.8,533.2 L739.1,535.3 L740.3,537.5 L741.6,539.7 L742.8,541.8 L744.0,544.0 L745.3,546.2 L746.5,548.4 L747.7,550.6 L748.9,552.8 L750.1,555.0 L751.3,557.2 L752.5,559.4 L753.7,561.6 L754.9,563.8 L756.1,566.0 L757.2,568.2 L758.4,570.4 L759.6,572.7 L760.8,574.9 L761.9,577.1 L763.1,579.3 L764.3,581.5 L765.4,583.8 L766.6,586.0 L767.7,588.2 L768.9,590.5 L770.0,592.7 L771.2,594.9 L772.3,597.2 L773.5,599.4 L774.6,601.6 L775.7,603.9 L776.9,606.1 L778.0,608.3 L779.2,610.6 L780.3,612.8 L781.4,615.0 L782.6,617.3 L783.7,619.5 L784.8,621.7 L786.0,624.0 L787.1,626.2 L788.3,628.5 L789.4,630.7 L790.5,632.9 L791.7,635.1 L792.8,637.4 L794.0,639.6 L795.1,641.8 L796.3,644.0 L797.4,646.3 L798.6,648.5 L799.7,650.7 L800.9,652.9 L802.0,655.1 L803.2,657.3 L804.4,659.6 L805.5,661.8 L806.7,664.0 L807.9,666.2 L809.1,668.4 L810.2,670.6 L811.4,672.7 L812.6,674.9 L813.8,677.1 L815.0,679.3 L816.2,681.5" fill="none" stroke="#1d1a1a" stroke-width="4.1" stroke-linecap="round" stroke-linejoin="round"/>
<path d="M142.1,373.4 L144.4,374.5 L146.6,375.6 L148.9,376.7 L151.1,377.9 L153.3,379.0 L155.5,380.2 L157.7,381.4 L159.9,382.6 L162.1,383.8 L164.3,385.0 L166.5,386.3 L168.7,387.5 L170.8,388.8 L173.0,390.1 L175.1,391.3 L177.3,392.6 L179.4,393.9 L181.6,395.3 L183.7,396.6 L185.8,397.9 L187.9,399.3 L190.0,400.6 L192.1,402.0 L194.2,403.4 L196.3,404.8 L198.4,406.2 L200.5,407.6 L202.5,409.0 L204.6,410.4 L206.7,411.9 L208.7,413.3 L210.8,414.8 L212.8,416.2 L214.9,417.7 L216.9,419.1 L219.0,420.6 L221.0,422.1 L223.0,423.6 L225.0,425.1 L227.0,426.6 L229.1,428.1 L231.1,429.7 L233.1,431.2 L235.0,432.7 L237.0,434.3 L239.0,435.8 L241.0,437.4 L243.0,438.9 L244.9,440.5 L246.9,442.1 L248.8,443.6 L250.8,445.2 L252.7,446.8 L254.7,448.4 L256.6,450.0 L258.5,451.6 L260.5,453.2 L262.4,454.8 L264.3,456.4 L266.2,458.1 L268.1,459.7 L270.0,461.3 L271.9,463.0 L273.7,464.6 L275.6,466.3 L277.5,467.9 L279.3,469.6 L281.2,471.2 L283.0,472.9 L284.9,474.6 L286.7,476.3 L288.5,478.0 L290.3,479.7 L292.1,481.5 L293.9,483.2 L295.7,485.0 L297.4,486.7 L299.2,488.5 L300.9,490.3 L302.7,492.1 L304.4,493.9 L306.1,495.7 L307.8,497.6 L309.5,499.4 L311.2,501.3 L312.9,503.2 L314.5,505.1 L316.2,507.0 L317.8,509.0 L319.4,510.9 L321.0,512.9 L322.7,514.8 L324.3,516.8 L325.9,518.8 L327.5,520.7 L329.2,522.7 L330.8,524.6 L332.5,526.5 L334.2,528.4 L335.9,530.2 L337.7,532.0 L339.5,533.8 L341.3,535.6 L343.2,537.2 L345.1,538.9 L347.1,540.4 L349.1,541.9 L351.1,543.2 L353.2,544.5 L355.3,545.6 L357.5,546.7 L359.7,547.7 L361.9,548.6 L364.2,549.4 L366.5,550.1 L368.9,550.8 L371.3,551.4 L373.7,551.9 L376.1,552.4 L378.6,552.8 L381.1,553.1 L383.6,553.4 L386.1,553.7 L388.6,553.9 L391.2,554.1 L393.7,554.3 L396.3,554.4 L398.9,554.5 L401.5,554.6 L404.0,554.7 L406.6,554.8 L409.2,554.9 L411.8,554.9 L414.3,555.0 L416.9,555.1 L419.5,555.2 L422.0,555.3 L424.6,555.4 L427.1,555.5 L429.7,555.6 L432.2,555.7 L434.7,555.9 L437.3,556.0 L439.8,556.2 L442.3,556.4 L444.8,556.6 L447.3,556.8 L449.8,557.1 L452.3,557.3 L454.8,557.6 L457.2,557.9 L459.7,558.2 L462.2,558.6 L464.6,559.0 L467.0,559.4 L469.5,559.8 L471.9,560.3 L474.3,560.8 L476.7,561.3 L479.1,561.8 L481.5,562.4 L483.9,563.1 L486.3,563.7 L488.7,564.4 L491.0,565.2 L493.4,565.9 L495.7,566.7 L498.0,567.6 L500.4,568.5 L502.7,569.4 L505.0,570.4 L507.3,571.4 L509.5,572.5 L511.8,573.6 L514.1,574.8 L516.3,575.9 L518.5,577.2 L520.7,578.4 L522.9,579.7 L525.0,581.1 L527.1,582.4 L529.3,583.8 L531.3,585.3 L533.4,586.8 L535.4,588.3 L537.4,589.8 L539.4,591.4 L541.4,593.0 L543.3,594.7 L545.2,596.4 L547.1,598.1 L548.9,599.9 L550.7,601.6 L552.4,603.5 L554.2,605.3 L555.8,607.2 L557.5,609.1 L559.1,611.0 L560.7,613.0 L562.2,615.0 L563.7,617.0 L565.1,619.0 L566.5,621.1 L567.9,623.2 L569.2,625.3 L570.4,627.5 L571.7,629.7 L572.8,631.9 L574.0,634.1 L575.1,636.3 L576.1,638.6 L577.2,640.8 L578.2,643.1 L579.2,645.4 L580.1,647.7 L581.1,650.1 L582.0,652.4 L582.9,654.7 L583.8,657.1 L584.7,659.4 L585.6,661.8 L586.5,664.2 L587.3,666.5 L588.2,668.9 L589.1,671.2 L590.0,673.6 L590.9,675.9 L591.8,678.3 L592.7,680.6" fill="none" stroke="#1d1a1a" stroke-width="4.1" stroke-linecap="round" stroke-linejoin="round"/>
<path d="M142.3,673.2 C144.5,673.3 151.6,673.2 155.4,673.6 C159.2,674.0 161.8,674.4 165.0,675.3 C168.2,676.1 171.9,678.0 174.7,678.7 C177.4,679.4 178.3,679.6 181.5,679.7 C184.7,679.8 190.4,679.2 194.1,679.2 C197.8,679.2 201.1,679.6 203.8,680.0 C206.5,680.4 209.1,681.2 210.5,681.6 C211.9,682.0 212.2,682.4 212.5,682.6" fill="none" stroke="#1d1a1a" stroke-width="4.1" stroke-linecap="round" stroke-linejoin="round"/>
<circle cx="184.8" cy="88.9" r="18.9" fill="#fff" stroke="#4d7192" stroke-width="2.5"/>
<text x="184.8" y="98.8" font-size="27" fill="#4d7192" stroke="#4d7192" stroke-width="0.6" text-anchor="middle" textLength="11.4" lengthAdjust="spacingAndGlyphs">3</text>
<circle cx="184.2" cy="398.8" r="18.9" fill="#fff" stroke="#4d7192" stroke-width="2.5"/>
<text x="184.2" y="408.7" font-size="27" fill="#4d7192" stroke="#4d7192" stroke-width="0.6" text-anchor="middle" textLength="11.4" lengthAdjust="spacingAndGlyphs">2</text>
<circle cx="184.2" cy="645.7" r="18.9" fill="#fff" stroke="#4d7192" stroke-width="2.5"/>
<text x="184.2" y="655.6" font-size="27" fill="#4d7192" stroke="#4d7192" stroke-width="0.6" text-anchor="middle" textLength="11.4" lengthAdjust="spacingAndGlyphs">1</text>
<text x="24.0" y="617.8" font-size="34" fill="#1d1a1a" stroke="#1d1a1a" stroke-width="0.95" textLength="49.8" lengthAdjust="spacingAndGlyphs">100</text>
<text x="24.0" y="542.1" font-size="34" fill="#1d1a1a" stroke="#1d1a1a" stroke-width="0.95" textLength="49.8" lengthAdjust="spacingAndGlyphs">200</text>
<text x="24.0" y="466.4" font-size="34" fill="#1d1a1a" stroke="#1d1a1a" stroke-width="0.95" textLength="49.8" lengthAdjust="spacingAndGlyphs">300</text>
<text x="24.0" y="390.7" font-size="34" fill="#1d1a1a" stroke="#1d1a1a" stroke-width="0.95" textLength="49.8" lengthAdjust="spacingAndGlyphs">400</text>
<text x="24.0" y="315.0" font-size="34" fill="#1d1a1a" stroke="#1d1a1a" stroke-width="0.95" textLength="49.8" lengthAdjust="spacingAndGlyphs">500</text>
<text x="24.0" y="239.3" font-size="34" fill="#1d1a1a" stroke="#1d1a1a" stroke-width="0.95" textLength="49.8" lengthAdjust="spacingAndGlyphs">600</text>
<text x="24.0" y="163.6" font-size="34" fill="#1d1a1a" stroke="#1d1a1a" stroke-width="0.95" textLength="49.8" lengthAdjust="spacingAndGlyphs">700</text>
<text x="24.0" y="87.9" font-size="34" fill="#1d1a1a" stroke="#1d1a1a" stroke-width="0.95" textLength="49.8" lengthAdjust="spacingAndGlyphs">800</text>
<text transform="translate(65.2,43.8) rotate(-90)" font-size="28" fill="#1d1a1a" stroke="#1d1a1a" stroke-width="0.35" textLength="23.6" lengthAdjust="spacingAndGlyphs">Pa</text>
<text transform="translate(124.6,65.35) rotate(-90)" font-size="27.5" fill="#1d1a1a" stroke="#1d1a1a" stroke-width="0.3" text-anchor="middle" textLength="15.6" lengthAdjust="spacingAndGlyphs">in</text>
<text transform="translate(124.6,43.20) rotate(-90)" font-size="27.5" fill="#1d1a1a" stroke="#1d1a1a" stroke-width="0.3" text-anchor="middle" textLength="12.0" lengthAdjust="spacingAndGlyphs">H</text>
<text transform="translate(134.1,31.95) rotate(-90)" font-size="15.5" fill="#1d1a1a" stroke="#1d1a1a" stroke-width="0.3" text-anchor="middle" textLength="7.4" lengthAdjust="spacingAndGlyphs">2</text>
<text transform="translate(124.6,21.00) rotate(-90)" font-size="27.5" fill="#1d1a1a" stroke="#1d1a1a" stroke-width="0.3" text-anchor="middle" textLength="14.0" lengthAdjust="spacingAndGlyphs">O</text>
<text transform="translate(130.3,628.4) rotate(-90)" font-size="26.3" fill="#1d1a1a" stroke="#1d1a1a" stroke-width="0.3" textLength="35" lengthAdjust="spacingAndGlyphs">0,4</text>
<text transform="translate(130.3,552.7) rotate(-90)" font-size="26.3" fill="#1d1a1a" stroke="#1d1a1a" stroke-width="0.3" textLength="35" lengthAdjust="spacingAndGlyphs">0,8</text>
<text transform="translate(130.3,477.0) rotate(-90)" font-size="26.3" fill="#1d1a1a" stroke="#1d1a1a" stroke-width="0.3" textLength="35" lengthAdjust="spacingAndGlyphs">1,2</text>
<text transform="translate(130.3,401.3) rotate(-90)" font-size="26.3" fill="#1d1a1a" stroke="#1d1a1a" stroke-width="0.3" textLength="35" lengthAdjust="spacingAndGlyphs">1,6</text>
<text transform="translate(130.3,325.6) rotate(-90)" font-size="26.3" fill="#1d1a1a" stroke="#1d1a1a" stroke-width="0.3" textLength="35" lengthAdjust="spacingAndGlyphs">2,0</text>
<text transform="translate(130.3,249.9) rotate(-90)" font-size="26.3" fill="#1d1a1a" stroke="#1d1a1a" stroke-width="0.3" textLength="35" lengthAdjust="spacingAndGlyphs">2,4</text>
<text transform="translate(130.3,174.2) rotate(-90)" font-size="26.3" fill="#1d1a1a" stroke="#1d1a1a" stroke-width="0.3" textLength="35" lengthAdjust="spacingAndGlyphs">2,8</text>
<text x="140.8" y="726.4" font-size="26" fill="#1d1a1a" stroke="#1d1a1a" stroke-width="0.3" text-anchor="middle" textLength="12.8" lengthAdjust="spacingAndGlyphs">0</text>
<text x="268.1" y="726.4" font-size="26" fill="#1d1a1a" stroke="#1d1a1a" stroke-width="0.3" text-anchor="middle" textLength="38.2" lengthAdjust="spacingAndGlyphs">100</text>
<text x="395.5" y="726.4" font-size="26" fill="#1d1a1a" stroke="#1d1a1a" stroke-width="0.3" text-anchor="middle" textLength="38.2" lengthAdjust="spacingAndGlyphs">200</text>
<text x="522.8" y="726.4" font-size="26" fill="#1d1a1a" stroke="#1d1a1a" stroke-width="0.3" text-anchor="middle" textLength="38.2" lengthAdjust="spacingAndGlyphs">300</text>
<text x="650.1" y="726.4" font-size="26" fill="#1d1a1a" stroke="#1d1a1a" stroke-width="0.3" text-anchor="middle" textLength="38.2" lengthAdjust="spacingAndGlyphs">400</text>
<text x="777.5" y="726.4" font-size="26" fill="#1d1a1a" stroke="#1d1a1a" stroke-width="0.3" text-anchor="middle" textLength="38.2" lengthAdjust="spacingAndGlyphs">500</text>
<text x="863.6" y="727" font-size="26" fill="#1d1a1a" stroke="#1d1a1a" stroke-width="0.35" textLength="39.2" lengthAdjust="spacingAndGlyphs">cfm</text>
<text x="252.2" y="778.8" font-size="35" fill="#1d1a1a" stroke="#1d1a1a" stroke-width="1.1" text-anchor="middle" textLength="49.6" lengthAdjust="spacingAndGlyphs">150</text>
<text x="364.4" y="778.8" font-size="35" fill="#1d1a1a" stroke="#1d1a1a" stroke-width="1.1" text-anchor="middle" textLength="49.6" lengthAdjust="spacingAndGlyphs">300</text>
<text x="476.6" y="778.8" font-size="35" fill="#1d1a1a" stroke="#1d1a1a" stroke-width="1.1" text-anchor="middle" textLength="49.6" lengthAdjust="spacingAndGlyphs">450</text>
<text x="588.7" y="778.8" font-size="35" fill="#1d1a1a" stroke="#1d1a1a" stroke-width="1.1" text-anchor="middle" textLength="49.6" lengthAdjust="spacingAndGlyphs">600</text>
<text x="700.9" y="778.8" font-size="35" fill="#1d1a1a" stroke="#1d1a1a" stroke-width="1.1" text-anchor="middle" textLength="49.6" lengthAdjust="spacingAndGlyphs">750</text>
<text x="813.0" y="778.8" font-size="35" fill="#1d1a1a" stroke="#1d1a1a" stroke-width="1.1" text-anchor="middle" textLength="49.6" lengthAdjust="spacingAndGlyphs">900</text>
<text x="859.2" y="777.5" font-size="25" fill="#1d1a1a" stroke="#1d1a1a" stroke-width="0.7" textLength="47.6" lengthAdjust="spacingAndGlyphs">m³/h</text>
<text x="93.6" y="768.9" font-size="26" fill="#1d1a1a" stroke="#1d1a1a" stroke-width="0.35" textLength="12" lengthAdjust="spacingAndGlyphs">q</text>
<text x="106.5" y="776.7" font-size="23" fill="#1d1a1a" stroke="#1d1a1a" stroke-width="0.35" textLength="12.6" lengthAdjust="spacingAndGlyphs">V</text>
<path d="M124,755 L153,766.5 L124,778 L131.5,766.5 Z" fill="#1d1a1a"/>
<path d="M54.3,645 L66.4,673.5 L54.3,667.3 L42.6,673.5 Z" fill="#1d1a1a"/>
<text transform="translate(66.6,715.2) rotate(-90)" font-size="34.5" fill="#1d1a1a" stroke="#1d1a1a" stroke-width="0.35" textLength="13" lengthAdjust="spacingAndGlyphs">p</text>
<text transform="translate(76.9,698) rotate(-90)" font-size="26" fill="#1d1a1a" stroke="#1d1a1a" stroke-width="0.35" textLength="16.5" lengthAdjust="spacingAndGlyphs">fs</text>
<text x="254" y="674.8" font-size="36" fill="#1d1a1a" stroke="#1d1a1a" stroke-width="0.35" textLength="15" lengthAdjust="spacingAndGlyphs">n</text>
<text x="271.8" y="676.6" font-size="25" fill="#1d1a1a" stroke="#1d1a1a" stroke-width="0.35" textLength="39.5" lengthAdjust="spacingAndGlyphs">min</text>
<text x="831.5" y="674.9" font-size="36" fill="#1d1a1a" stroke="#1d1a1a" stroke-width="0.35" textLength="15" lengthAdjust="spacingAndGlyphs">n</text>
<text x="849.8" y="676.8" font-size="25" fill="#1d1a1a" stroke="#1d1a1a" stroke-width="0.35" textLength="42.8" lengthAdjust="spacingAndGlyphs">max</text>
<g><polygon points="178.46,652.18 183.30,652.18 183.30,657.20 178.46,657.20" fill="#fff"/><polygon points="185.82,652.18 190.50,652.18 190.50,657.20 185.82,657.20" fill="#fff"/><polygon points="24.50,613.68 30.98,613.68 30.98,619.57 24.50,619.57" fill="#dcdde0"/><polygon points="34.67,613.68 40.93,613.68 40.93,619.57 34.67,619.57" fill="#dcdde0"/><polygon points="127.09,476.53 127.09,470.86 131.75,470.86 131.75,476.53" fill="#fff"/><polygon points="127.09,468.24 127.09,462.77 131.75,462.77 131.75,468.24" fill="#fff"/><polygon points="127.09,400.83 127.09,395.16 131.75,395.16 131.75,400.83" fill="#fff"/><polygon points="127.09,392.54 127.09,387.07 131.75,387.07 131.75,392.54" fill="#fff"/><polygon points="249.29,723.21 254.56,723.21 254.56,727.85 249.29,727.85" fill="#fff"/><polygon points="256.98,723.21 262.07,723.21 262.07,727.85 256.98,727.85" fill="#fff"/><polygon points="227.81,774.54 234.28,774.54 234.28,780.65 227.81,780.65" fill="#dcdde0"/><polygon points="238.10,774.54 244.33,774.54 244.33,780.65 238.10,780.65" fill="#dcdde0"/></g>
<g fill="#000" fill-opacity="0.15"><text transform="translate(88.5,281.5) rotate(17.6) scale(1.000,0.780)" x="0" y="0" font-size="165" font-weight="700" text-anchor="middle" dominant-baseline="central" style="font-family:'Liberation Sans', 'Noto Sans CJK SC', sans-serif">恒</text><text transform="translate(242.9,329.7) rotate(17.6) scale(1.000,0.780)" x="0" y="0" font-size="165" font-weight="700" text-anchor="middle" dominant-baseline="central" style="font-family:'Liberation Sans', 'Noto Sans CJK SC', sans-serif">瑞</text><text transform="translate(397.3,377.9) rotate(17.6) scale(1.000,0.780)" x="0" y="0" font-size="165" font-weight="700" text-anchor="middle" dominant-baseline="central" style="font-family:'Liberation Sans', 'Noto Sans CJK SC', sans-serif">宏</text><text transform="translate(551.7,426.1) rotate(17.6) scale(1.000,0.780)" x="0" y="0" font-size="165" font-weight="700" text-anchor="middle" dominant-baseline="central" style="font-family:'Liberation Sans', 'Noto Sans CJK SC', sans-serif">晟</text><text transform="translate(706.1,474.3) rotate(17.6) scale(1.000,0.780)" x="0" y="0" font-size="165" font-weight="700" text-anchor="middle" dominant-baseline="central" style="font-family:'Liberation Sans', 'Noto Sans CJK SC', sans-serif">机</text><text transform="translate(860.5,522.5) rotate(17.6) scale(1.000,0.780)" x="0" y="0" font-size="165" font-weight="700" text-anchor="middle" dominant-baseline="central" style="font-family:'Liberation Sans', 'Noto Sans CJK SC', sans-serif">电</text><text transform="translate(-11.4,401.0) rotate(17.6)" font-size="56" font-weight="bold" letter-spacing="17">www.bjhengrui.com.cn</text></g>
<line x1="2.3" y1="360.2" x2="896.5" y2="639.8" stroke="#000" stroke-opacity="0.15" stroke-width="1.9" stroke-linecap="round"/>
</svg></body></html>
